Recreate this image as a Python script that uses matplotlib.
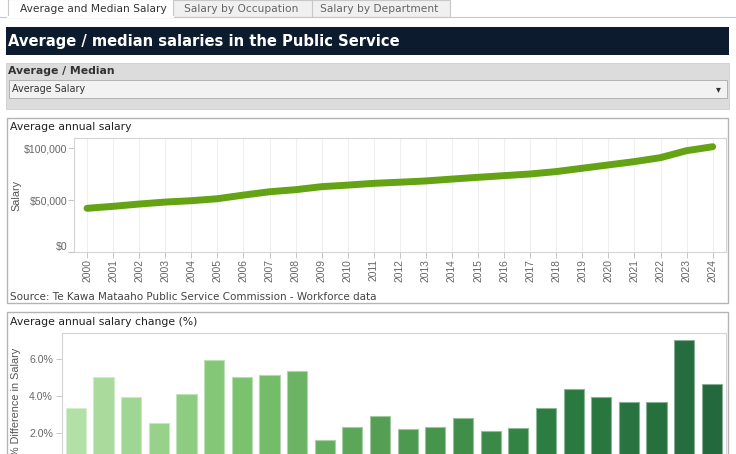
import numpy as np
import matplotlib.pyplot as plt
from matplotlib.patches import Rectangle
from matplotlib.colors import LinearSegmentedColormap
from matplotlib.ticker import FuncFormatter

# data
years = list(range(2000, 2025))
avg_salary = [42300, 44200, 46400, 48300, 49600, 51500, 55000, 58200, 60200, 63100,
              64600, 66300, 67400, 68600, 70400, 72100, 73700, 75300, 77600, 80800,
              84000, 87200, 91000, 97700, 101500]

change_years = list(range(2001, 2025))
pct_change = [3.34, 5.01, 3.94, 2.55, 4.10, 5.92, 5.03, 5.13, 5.37, 1.62, 2.36, 2.95,
              2.25, 2.36, 2.84, 2.11, 2.30, 3.34, 4.38, 3.94, 3.68, 3.68, 7.03, 4.63]

tabs = ['Average and Median Salary', 'Salary by Occupation', 'Salary by Department']

W, H = 736, 454
fig = plt.figure(figsize=(W / 100, H / 100), dpi=100)

def rect(x0, y0, x1, y1):
    return [x0 / W, 1 - y1 / H, (x1 - x0) / W, (y1 - y0) / H]

# background layer in pixel coords
bg = fig.add_axes([0, 0, 1, 1])
bg.set_xlim(0, W)
bg.set_ylim(H, 0)
bg.axis('off')

# tab strip
bg.plot([0, W], [16.7, 16.7], color='#c8c8c8', lw=0.8)
bg.add_patch(Rectangle((173, 0), 277, 16.7, facecolor='#f0f0f0', edgecolor='#c8c8c8', lw=0.8))
bg.plot([311.7, 311.7], [0, 16.7], color='#c8c8c8', lw=0.8)
bg.add_patch(Rectangle((8, -1), 165, 18, facecolor='white', edgecolor='#c8c8c8', lw=0.8))
bg.plot([8.4, 172.6], [16.7, 16.7], color='white', lw=1.5)
tab_x = [20.5, 184, 320.5]
tab_c = ['#333333', '#666666', '#666666']
for t, x, c in zip(tabs, tab_x, tab_c):
    bg.text(x, 8.5, t, fontsize=7.7, color=c, va='center', ha='left', family='DejaVu Sans')

# title bar
bg.add_patch(Rectangle((6, 27.3), 723, 27.7, facecolor='#0c1b2e', edgecolor='none'))
bg.text(8.5, 41.5, 'Average / median salaries in the Public Service', color='white',
        fontsize=10.6, fontweight='bold', va='center', ha='left', family='DejaVu Sans')

# filter panel
bg.add_patch(Rectangle((6, 62.7), 723, 46.6, facecolor='#dcdcdc', edgecolor='#cfcfcf', lw=0.6))
bg.text(8.5, 71, 'Average / Median', fontsize=7.8, fontweight='bold', color='#333333',
        va='center', ha='left', family='DejaVu Sans')
bg.add_patch(Rectangle((8.5, 80), 718.5, 17.5, facecolor='#f2f2f2', edgecolor='#aaaaaa', lw=0.6))
bg.text(12.5, 88.5, 'Average Salary', fontsize=6.9, color='#333333',
        va='center', ha='left', family='DejaVu Sans')
bg.text(718, 89, '▾', fontsize=7, color='#333333', va='center', ha='center', family='DejaVu Sans')

# panel frames
bg.add_patch(Rectangle((6.7, 117.7), 721.5, 185.6, facecolor='white', edgecolor='#b4b4b4', lw=1.0))
bg.add_patch(Rectangle((6.7, 312.3), 721.5, 160, facecolor='white', edgecolor='#b4b4b4', lw=1.0))
bg.text(9.5, 127, 'Average annual salary', fontsize=7.8, color='#222222',
        va='center', ha='left', family='DejaVu Sans')
bg.text(9.5, 296.7, 'Source: Te Kawa Mataaho Public Service Commission - Workforce data',
        fontsize=7.5, color='#444444', va='center', ha='left', family='DejaVu Sans')
bg.text(9.5, 322, 'Average annual salary change (%)', fontsize=7.8, color='#222222',
        va='center', ha='left', family='DejaVu Sans')

tick_font = 'Liberation Sans'
grey = '#666666'
spine_c = '#d4d4d4'

# --- line chart ---
ax1 = fig.add_axes(rect(74, 138.3, 725.7, 252.3))
ax1.plot(years, avg_salary, color='#64a313', lw=5, solid_capstyle='round', solid_joinstyle='round')
ax1.set_xlim(1999.5, 2024.5)
ax1.set_ylim(0, 109600)
ax1.set_yticks([0, 50000, 100000])
ax1.yaxis.set_major_formatter(FuncFormatter(lambda v, p: '${:,.0f}'.format(v)))
ax1.set_xticks(years)
ax1.set_xticklabels([str(y) for y in years], rotation=90)
ax1.grid(axis='x', color='#efefef', lw=0.8)
ax1.set_axisbelow(True)
for s in ax1.spines.values():
    s.set_color(spine_c)
    s.set_linewidth(0.8)
ax1.tick_params(axis='y', length=4, width=0.6, color='#bbbbbb', pad=1, labelsize=7.6, labelcolor=grey)
ax1.tick_params(axis='x', length=4, width=0.6, color='#bbbbbb', pad=1, labelsize=7.4, labelcolor=grey)
for lab in ax1.get_xticklabels() + ax1.get_yticklabels():
    lab.set_family(tick_font)
ax1.get_yticklabels()[0].set_va('bottom')
ax1.set_ylabel('Salary', fontsize=7.8, color='#555555', family=tick_font)
ax1.yaxis.set_label_coords(-0.08, 0.5)

# --- bar chart ---
greens = LinearSegmentedColormap.from_list('greens', ['#b3e0a6', '#7dc370', '#519c51', '#2b7c40', '#24693d'])
n = len(change_years)
cols = [greens(i / (n - 1)) for i in range(n)]
edge = [tuple(0.55 * np.array(c[:3]) + 0.45) for c in cols]
ax2 = fig.add_axes(rect(62, 332.7, 725.7, 470.5))
ax2.bar(range(n), pct_change, width=0.73, color=cols, edgecolor=edge, linewidth=0.8)
ax2.set_xlim(-0.5, n - 0.5)
ax2.set_ylim(0, 7.41)
ax2.set_yticks([0, 2, 4, 6])
ax2.yaxis.set_major_formatter(FuncFormatter(lambda v, p: '{:.1f}%'.format(v)))
ax2.set_xticks([])
for s in ax2.spines.values():
    s.set_color(spine_c)
    s.set_linewidth(0.8)
ax2.tick_params(axis='y', length=4, width=0.6, color='#bbbbbb', pad=2.5, labelsize=7.6, labelcolor=grey)
for lab in ax2.get_yticklabels():
    lab.set_family(tick_font)
ax2.set_ylabel('% Difference in Salary', fontsize=7.8, color='#555555', family=tick_font)
ax2.yaxis.set_label_coords(-0.062, 0.5)

fig.savefig('out.png', dpi=100)
